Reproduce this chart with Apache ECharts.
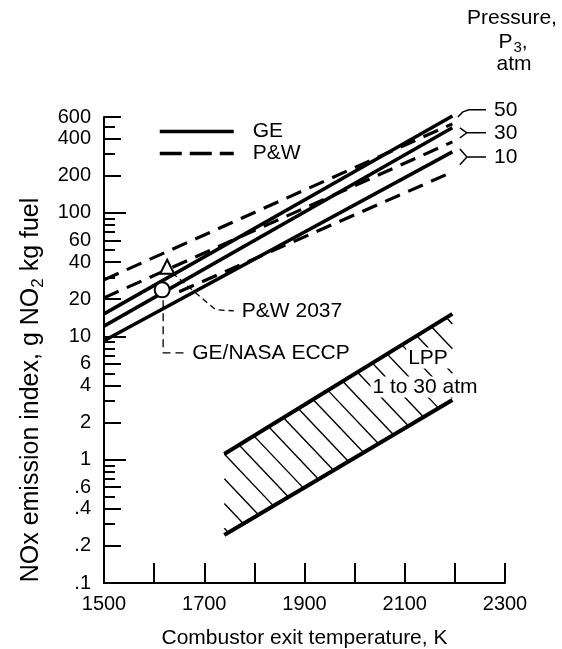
<!DOCTYPE html>
<html>
<head>
<meta charset="utf-8">
<title>NOx emission index vs combustor exit temperature</title>
<script src="https://cdn.jsdelivr.net/npm/echarts@6/dist/echarts.min.js"></script>
<style>
  html, body { margin: 0; padding: 0; background: #fff; }
  #chart { width: 562px; height: 649px; }
</style>
</head>
<body>
<div id="chart"></div>
<script>
// values (temperature K, g NO2 / kg fuel)
var endTemps = [1500, 2195];
var ge50 = [15.2, 612];
var ge30 = [12.1, 490];
var ge10 = [9.2, 313];
var pw50 = [28.7, 528];
var pw30 = [20.5, 377];
var pw10Temps = [1650, 2195];
var pw10 = [23.0, 215];

var lppTemps = [1740, 2195];
var lppLow = [0.245, 3.05];
var lppHigh = [1.11, 15.2];

var pw2037 = [1626, 36.6];
var geEccp = [1616, 23.8];

var yLabelValues = [0.1, 0.2, 0.4, 0.6, 1, 2, 4, 6, 10, 20, 40, 60, 100, 200, 400, 600];
var yDecadeTicks = [1, 10, 100];
var yMinorTicks = [0.3, 0.5, 0.7, 0.8, 0.9, 3, 5, 7, 8, 9, 30, 50, 70, 80, 90, 300, 500];

// leader lines for the annotations, in data units
var eccpLeader = [[1618, 19.6], [1618, 7.33], [1660, 7.33]];
var pw2037Leader = [[1636, 32.7], [1711, 18.0], [1723, 16.4], [1759, 16.1]];
var p50Leader = [[2206, 601], [2216, 660], [2228, 686], [2262, 686]];
var p30Leader = [[2210, 490], [2224, 447], [2210, 406], [2224, 447], [2262, 447]];
var p10Leader = [[2210, 330], [2224, 285], [2210, 246], [2224, 285], [2262, 285]];

var FONT = 'Liberation Sans';
var HATCH_GAP = 17;
var HATCH_ANGLE = 46.5;
var GRID = { left: 104, right: 57, top: 117, bottom: 66, containLabel: false, outerBoundsMode: 'none' };

function pairs(xs, ys) {
    return xs.map(function (x, i) { return [x, ys[i]]; });
}

var solid = { color: '#000', width: 3.5, type: 'solid' };
var dashed = { color: '#000', width: 3.2, type: [16, 9] };

function curve(name, data, style) {
    return {
        type: 'line', name: name, data: data, symbol: 'none',
        lineStyle: style, itemStyle: { color: '#000' },
        z: 3, silent: true, clip: false
    };
}

function leader(data, text, style) {
    return {
        type: 'line', data: data, symbol: 'none', silent: true, clip: false, z: 4,
        lineStyle: style, itemStyle: { color: '#000' },
        endLabel: {
            show: true, formatter: text, distance: 8,
            fontSize: 21, fontFamily: FONT, color: '#000'
        }
    };
}

function yTickFormat(v) {
    var r = +(+v).toPrecision(3);
    return r < 1 ? String(r).replace(/^0/, '') : String(r);
}

// extra log axes on stacked grids, only to get ticks of other lengths
function tickAxis(gridIndex, values, len) {
    return {
        type: 'log', min: 0.1, max: 600, gridIndex: gridIndex,
        axisLine: { show: false },
        axisLabel: { show: false },
        splitLine: { show: false },
        axisTick: {
            show: true, inside: true, length: len, customValues: values,
            lineStyle: { color: '#000', width: 2 }
        }
    };
}

function hiddenX(gridIndex) {
    return { type: 'value', min: 1500, max: 2300, gridIndex: gridIndex, show: false };
}

function hatch(params, api) {
    var ul = api.coord([lppTemps[0], lppHigh[0]]);
    var ur = api.coord([lppTemps[1], lppHigh[1]]);
    var lr = api.coord([lppTemps[1], lppLow[1]]);
    var ll = api.coord([lppTemps[0], lppLow[0]]);
    var poly = [ul, ur, lr, ll];
    var a = HATCH_ANGLE * Math.PI / 180;
    var d = [Math.cos(a), Math.sin(a)];
    var n = [-d[1], d[0]];
    function dot(p, v) { return p[0] * v[0] + p[1] * v[1]; }
    var c0 = dot(ul, n);
    var cs = poly.map(function (p) { return dot(p, n); });
    var kFrom = Math.ceil((Math.min.apply(null, cs) - c0) / HATCH_GAP);
    var kTo = Math.floor((Math.max.apply(null, cs) - c0) / HATCH_GAP);
    var children = [];
    for (var k = kFrom; k <= kTo; k++) {
        var c = c0 + k * HATCH_GAP;
        var pts = [];
        for (var i = 0; i < 4; i++) {
            var P = poly[i], Q = poly[(i + 1) % 4];
            var cp = dot(P, n), cq = dot(Q, n);
            if (cp === cq) continue;
            var t = (c - cp) / (cq - cp);
            if (t >= 0 && t <= 1) pts.push([P[0] + t * (Q[0] - P[0]), P[1] + t * (Q[1] - P[1])]);
        }
        if (pts.length < 2) continue;
        pts.sort(function (p, q) { return dot(p, d) - dot(q, d); });
        var s = pts[0], e = pts[pts.length - 1];
        children.push({
            type: 'line',
            shape: { x1: s[0], y1: s[1], x2: e[0], y2: e[1] },
            style: { stroke: '#000', lineWidth: 1.4 }
        });
    }
    return { type: 'group', children: children };
}

var chart = echarts.init(document.getElementById('chart'), null, { renderer: 'canvas' });

chart.setOption({
    animation: false,
    backgroundColor: '#fff',
    textStyle: { fontFamily: FONT, color: '#000' },
    grid: [GRID, GRID, GRID],
    legend: {
        data: [
            { name: 'GE', lineStyle: { width: 3.5, type: 'solid', color: '#000' }, itemStyle: { opacity: 0 } },
            { name: 'P&W', lineStyle: { width: 3.5, type: [22, 8], color: '#000' }, itemStyle: { opacity: 0 } }
        ],
        orient: 'vertical',
        left: 153, top: 116,
        itemWidth: 74, itemHeight: 14, itemGap: 1,
        selectedMode: false,
        textStyle: { fontSize: 21, fontFamily: FONT, color: '#000', lineHeight: 21, padding: [0, 0, 0, 14] }
    },
    xAxis: [
        {
            type: 'value', min: 1500, max: 2300, interval: 100,
            axisLine: { onZero: false, lineStyle: { color: '#000', width: 2 } },
            axisTick: { inside: true, length: 20, lineStyle: { color: '#000', width: 2 } },
            axisLabel: {
                fontSize: 20, margin: 11, color: '#000', fontFamily: FONT,
                formatter: function (v) { return (v - 1500) % 200 === 0 ? String(v) : ''; }
            },
            splitLine: { show: false },
            name: 'Combustor exit temperature, K',
            nameLocation: 'middle', nameGap: 45,
            nameTextStyle: { fontSize: 21, fontFamily: FONT, color: '#000' }
        },
        hiddenX(1),
        hiddenX(2)
    ],
    yAxis: [
        {
            type: 'log', min: 0.1, max: 600, gridIndex: 0,
            axisLine: { show: true, onZero: false, lineStyle: { color: '#000', width: 2 } },
            axisTick: {
                show: true, inside: true, length: 17, customValues: yLabelValues,
                lineStyle: { color: '#000', width: 2 }
            },
            axisLabel: {
                customValues: yLabelValues, formatter: yTickFormat,
                margin: 13, fontSize: 20, color: '#000', fontFamily: FONT
            },
            splitLine: { show: false },
            name: 'NOx emission index, g NO{s|2} kg fuel',
            nameLocation: 'middle', nameGap: 52,
            nameTextStyle: {
                fontSize: 25, fontFamily: FONT, color: '#000', padding: [0, 80, 0, 0],
                rich: { s: { fontSize: 17, fontFamily: FONT, color: '#000', padding: [14, 0, 0, 0], verticalAlign: 'bottom' } }
            }
        },
        tickAxis(1, yDecadeTicks, 22),
        tickAxis(2, yMinorTicks, 11)
    ],
    graphic: [
        { type: 'text', x: 512, y: 18, z: 100, style: { text: 'Pressure,', fontSize: 21, fontFamily: FONT, fill: '#000', align: 'center', verticalAlign: 'middle' } },
        { type: 'text', x: 513, y: 42, z: 100, style: {
            text: '{m|P}{s|3}{m|,}', align: 'center', verticalAlign: 'middle', fill: '#000',
            rich: {
                m: { fontSize: 21, fontFamily: FONT, fill: '#000' },
                s: { fontSize: 15, fontFamily: FONT, fill: '#000', padding: [12, 0, 0, 1], verticalAlign: 'bottom' }
            }
        } },
        { type: 'text', x: 514, y: 64, z: 100, style: { text: 'atm', fontSize: 21, fontFamily: FONT, fill: '#000', align: 'center', verticalAlign: 'middle' } },
        { type: 'text', x: 428, y: 358, z: 100, style: { text: 'LPP', fontSize: 21, fontFamily: FONT, fill: '#000', align: 'center', verticalAlign: 'middle', backgroundColor: '#fff', padding: [0, 2] } },
        { type: 'text', x: 425, y: 387, z: 100, style: { text: '1 to 30 atm', fontSize: 21, fontFamily: FONT, fill: '#000', align: 'center', verticalAlign: 'middle', backgroundColor: '#fff', padding: [0, 2] } }
    ],
    series: [
        curve('GE', pairs(endTemps, ge50), solid),
        curve('GE', pairs(endTemps, ge30), solid),
        curve('GE', pairs(endTemps, ge10), solid),
        curve('P&W', pairs(endTemps, pw50), dashed),
        curve('P&W', pairs(endTemps, pw30), dashed),
        curve('P&W', pairs(pw10Temps, pw10), dashed),
        {
            type: 'custom', silent: true, z: 2, clip: false,
            data: [[lppTemps[0], lppLow[0]]],
            renderItem: hatch
        },
        curve('LPP upper', pairs(lppTemps, lppHigh), { color: '#000', width: 4 }),
        curve('LPP lower', pairs(lppTemps, lppLow), { color: '#000', width: 4 }),
        leader(eccpLeader, 'GE/NASA ECCP', { color: '#000', width: 1.3, type: [8, 5] }),
        leader(pw2037Leader, 'P&W 2037', { color: '#000', width: 1.3, type: [6, 4] }),
        leader(p50Leader, '50', { color: '#000', width: 1.5 }),
        leader(p30Leader, '30', { color: '#000', width: 1.5 }),
        leader(p10Leader, '10', { color: '#000', width: 1.5 }),
        {
            type: 'scatter', name: 'P&W 2037', data: [pw2037], symbol: 'triangle', symbolSize: 14, z: 6, silent: true,
            itemStyle: { color: '#fff', borderColor: '#000', borderWidth: 2, opacity: 1 }
        },
        {
            type: 'scatter', name: 'GE/NASA ECCP', data: [geEccp], symbol: 'circle', symbolSize: 15, z: 6, silent: true,
            itemStyle: { color: '#fff', borderColor: '#000', borderWidth: 2, opacity: 1 }
        }
    ]
});
</script>
</body>
</html>
